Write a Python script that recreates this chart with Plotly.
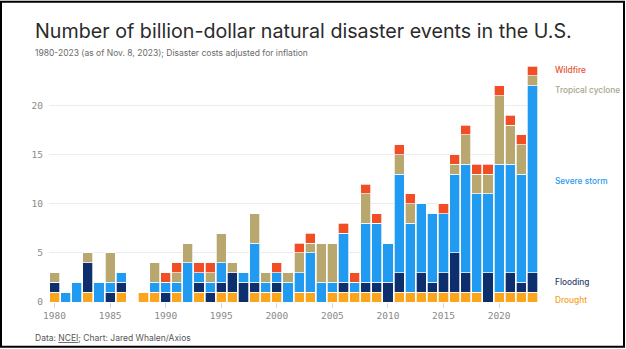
import plotly.graph_objects as go

# Billion-dollar disaster events per year, by type (NCEI)
years = list(range(1980, 2024))
drought = [1, 0, 0, 1, 0, 0, 1, 0, 1, 1, 0, 1, 0, 1, 0, 1, 1, 0, 1, 1, 1, 0,
           1, 1, 0, 1, 1, 1, 1, 1, 0, 1, 1, 1, 1, 1, 1, 1, 1, 0, 1, 1, 1, 1]
flooding = [1, 0, 0, 3, 0, 1, 1, 0, 0, 0, 1, 0, 0, 1, 1, 1, 2, 2, 1, 0, 1, 0,
            0, 0, 0, 0, 1, 0, 1, 1, 2, 2, 0, 2, 1, 2, 4, 2, 0, 3, 0, 2, 1, 2]
severe_storm = [0, 1, 2, 0, 2, 1, 1, 0, 0, 1, 1, 1, 4, 1, 1, 2, 0, 1, 4, 1, 1, 2,
                2, 4, 2, 1, 5, 1, 6, 6, 4, 10, 7, 7, 7, 6, 8, 11, 10, 8, 13, 11, 11, 19]
tropical_cyclone = [1, 0, 0, 1, 0, 3, 0, 0, 0, 2, 0, 1, 2, 0, 1, 3, 1, 0, 3, 1, 0, 1,
                    2, 1, 4, 4, 0, 0, 3, 0, 0, 2, 2, 0, 0, 0, 1, 3, 2, 2, 7, 4, 3, 1]
wildfire = [0, 0, 0, 0, 0, 0, 0, 0, 0, 0, 1, 1, 0, 1, 1, 0, 0, 0, 0, 0, 1, 0,
            1, 1, 0, 0, 1, 1, 1, 1, 0, 1, 1, 0, 0, 1, 1, 1, 1, 1, 1, 1, 1, 1]

# name, values, bar colour, label colour, label height (in data units)
series = [
    ("Drought", drought, "#fba51c", "#f4a21f", 0.2),
    ("Flooding", flooding, "#0d2f6d", "#2f3f6b", 2.0),
    ("Severe storm", severe_storm, "#219bf2", "#2b98ee", 12.3),
    ("Tropical cyclone", tropical_cyclone, "#b8a86f", "#a9a58c", 21.6),
    ("Wildfire", wildfire, "#f24e26", "#e8502f", 23.55),
]

W_FIG, H_FIG = 626, 349
L, R, T, B = 49, 88, 65.5, 46.5
PW, PH = W_FIG - L - R, H_FIG - T - B
Y_MAX = 24


def paper(x, y):
    return (x - L) / PW, 1 - (y - T) / PH


fig = go.Figure()
for name, vals, color, _, _ in series:
    fig.add_trace(go.Bar(
        x=years, y=vals, name=name,
        marker=dict(color=color, line=dict(color="#ffffff", width=0.7)),
        showlegend=False,
    ))

annotations = []
# direct labels beside the last bar
label_x, _ = paper(553, 0)
for name, _, _, label_color, yval in series:
    annotations.append(dict(
        x=label_x, y=yval / Y_MAX, xref="paper", yref="paper",
        text=name, showarrow=False, xanchor="left", yanchor="middle",
        font=dict(family="Inter", size=8.3, color=label_color, weight=500),
    ))

tx, ty = paper(33, 30)
annotations.append(dict(
    x=tx, y=ty, xref="paper", yref="paper", xanchor="left", yanchor="middle",
    text="Number of billion-dollar natural disaster events in the U.S.",
    showarrow=False, font=dict(family="Inter", size=19.7, color="#2b2b2b"),
))
sx, sy = paper(33, 52)
annotations.append(dict(
    x=sx, y=sy, xref="paper", yref="paper", xanchor="left", yanchor="middle",
    text="1980-2023 (as of Nov. 8, 2023); Disaster costs adjusted for inflation",
    showarrow=False, font=dict(family="Inter", size=8.5, color="#6b6b6b"),
))
fx, fy = paper(33, 339)
annotations.append(dict(
    x=fx, y=fy, xref="paper", yref="paper", xanchor="left", yanchor="middle",
    text="Data: <u>NCEI</u>; Chart: Jared Whalen/Axios",
    showarrow=False, font=dict(family="Inter", size=8.5, color="#555555"),
))

bx0, by0 = paper(1, 1)
bx1, by1 = paper(624, 347.5)

fig.update_layout(
    width=W_FIG, height=H_FIG,
    margin=dict(l=L, r=R, t=T, b=B),
    barmode="stack", bargap=0.09,
    plot_bgcolor="white", paper_bgcolor="white",
    annotations=annotations,
    shapes=[dict(type="rect", xref="paper", yref="paper",
                 x0=bx0, y0=by0, x1=bx1, y1=by1,
                 line=dict(color="#000000", width=2), layer="above")],
    xaxis=dict(
        range=[1979.5, 2023.5], tickvals=list(range(1980, 2021, 5)),
        ticks="outside", ticklen=5, tickcolor="#d6d6d6",
        showgrid=False, zeroline=False, showline=False,
        tickfont=dict(family="DejaVu Sans Mono", size=9.5, color="#8a8a8a"),
    ),
    yaxis=dict(
        range=[0, Y_MAX], tickvals=[0, 5, 10, 15, 20],
        showgrid=True, gridcolor="#ececec", gridwidth=1,
        zeroline=False, showline=False, ticks="",
        ticklabelstandoff=5,
        tickfont=dict(family="DejaVu Sans Mono", size=9.5, color="#8a8a8a"),
    ),
)

fig.write_html("out.html")
